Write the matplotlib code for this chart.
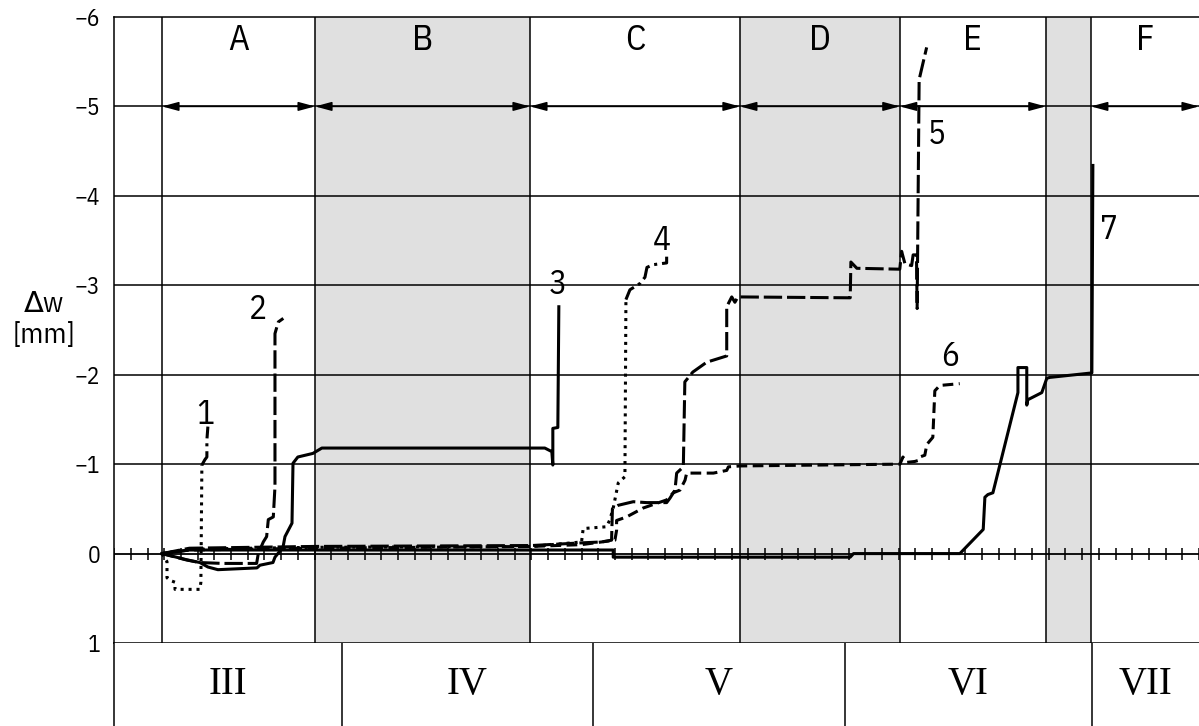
import numpy as np
import matplotlib.pyplot as plt

plt.rcParams['font.family'] = ['osifont', 'IBM Plex Sans Condensed', 'DejaVu Sans']
plt.rcParams['font.weight'] = 'normal'

# x: test progress in tick units along the zero line, y: deflection change [mm]
x_max = 65
phase_edges = [2.86, 12.03, 24.91, 37.49, 47.07, 55.82, 58.52]
shaded_spans = [(12.03, 24.91), (37.49, 47.07), (55.82, 58.52)]
phase_names = ["A", "B", "C", "D", "E", "F"]
phase_from = [2.86, 12.03, 24.91, 37.49, 47.07, 58.52]
phase_to = [12.03, 24.91, 37.49, 47.07, 55.82, 65.0]
stage_names = ["III", "IV", "V", "VI", "VII"]
stage_edges = [0.0, 13.64, 28.68, 43.78, 58.58, 65.0]

c1_x = [2.86, 3.16, 3.16, 3.34, 3.64, 3.64, 5.13, 5.19, 5.25, 5.43, 5.55, 5.55, 5.61]
c1_y = [0.0, 0.09, 0.27, 0.30, 0.32, 0.40, 0.40, 0.32, -0.99, -1.05, -1.08, -1.27, -1.42]

c2_x = [2.86, 4.30, 5.10, 6.50, 8.53, 8.63, 8.93, 9.13, 9.23, 9.53, 9.63, 9.63, 9.83, 10.13]
c2_y = [0.0, 0.07, 0.10, 0.11, 0.11, 0.0, -0.13, -0.19, -0.38, -0.41, -0.75, -2.46, -2.59, -2.63]

c3_x = [2.86, 4.36, 5.13, 5.61, 6.21, 8.55, 8.73, 9.51, 9.63, 10.11, 10.23, 10.65, 10.71,
        11.0, 11.9, 12.44, 25.8, 26.22, 26.28, 26.28, 26.58, 26.64]
c3_y = [0.0, 0.07, 0.10, 0.15, 0.18, 0.16, 0.13, 0.10, 0.04, -0.07, -0.19, -0.34, -1.01,
        -1.08, -1.12, -1.18, -1.18, -1.14, -0.99, -1.40, -1.41, -2.76]

c4_x = [2.86, 4.5, 12.0, 25.0, 28.0, 28.1, 29.5, 29.7, 29.9, 30.2, 30.6, 30.66,
        30.9, 31.5, 31.8, 31.92, 32.28, 33.1, 33.1]
c4_y = [0.0, -0.05, -0.07, -0.08, -0.13, -0.28, -0.30, -0.38, -0.51, -0.79, -0.86, -2.84,
        -2.95, -3.02, -3.09, -3.20, -3.23, -3.25, -3.32]

c5_x = [2.86, 4.5, 12.0, 25.0, 28.0, 29.2, 29.8, 29.85, 30.2, 31.1, 31.9, 33.1, 33.3, 33.6,
        33.7, 34.1, 34.19, 34.67, 35.5, 36.7, 36.7, 37.0, 37.19, 37.37, 44.1, 44.14, 44.5,
        47.07, 47.18, 47.38, 47.78, 47.87, 48.07, 48.11, 48.23, 48.68]
c5_y = [0.0, -0.06, -0.08, -0.09, -0.12, -0.13, -0.15, -0.50, -0.54, -0.58, -0.57, -0.57,
        -0.62, -0.71, -0.90, -0.97, -1.92, -2.03, -2.14, -2.21, -2.76, -2.87, -2.81, -2.87,
        -2.86, -3.26, -3.19, -3.18, -3.38, -3.24, -3.22, -3.34, -3.34, -2.74, -5.30, -5.66]

c6_x = [2.86, 4.5, 12.0, 25.0, 28.0, 30.0, 30.1, 30.1, 30.7, 31.7, 33.1, 33.5, 33.9, 34.2,
        34.3, 35.9, 36.7, 36.8, 37.5, 47.08, 47.26, 47.5, 47.97, 48.15, 48.27, 48.57, 48.69,
        49.05, 49.17, 49.47, 50.66]
c6_y = [0.0, -0.04, -0.06, -0.08, -0.10, -0.15, -0.26, -0.37, -0.41, -0.51, -0.60, -0.68,
        -0.71, -0.82, -0.90, -0.90, -0.93, -0.97, -0.98, -1.00, -1.08, -1.02, -1.03, -1.04,
        -1.08, -1.10, -1.22, -1.30, -1.82, -1.88, -1.90]

c7_x = [2.86, 4.5, 29.9, 29.9, 44.1, 44.3, 50.67, 52.07, 52.17, 52.35, 52.65, 54.15, 54.15,
        54.68, 54.68, 54.74, 55.58, 55.88, 56.06, 58.58, 58.64]
c7_y = [0.0, -0.04, -0.04, 0.04, 0.04, 0.0, 0.0, -0.27, -0.63, -0.66, -0.68, -1.80, -2.08,
        -2.08, -1.66, -1.72, -1.80, -1.96, -1.97, -2.02, -4.34]

curve_names = ["1", "2", "3", "4", "5", "6", "7"]
name_x = [5.48, 8.6, 26.59, 32.8, 49.3, 50.07, 59.6]
name_y = [-1.55, -2.72, -3.0, -3.5, -4.68, -2.2, -3.62]

fig = plt.figure(figsize=(11.99, 7.26), dpi=100)
ax = fig.add_axes([0.0953, 0.1143, 0.9047, 0.8623])
tb = fig.add_axes([0.0953, 0.0, 0.9047, 0.1143])

for a, b in shaded_spans:
    ax.axvspan(a, b, color="#e0e0e0", lw=0, zorder=0)
for x in phase_edges:
    ax.axvline(x, color="k", lw=1.1, zorder=1)
for y in range(-5, 0):
    ax.axhline(y, color="k", lw=1.1, zorder=1)
ax.axhline(0, color="k", lw=1.3, zorder=1)
ticks = np.arange(0, x_max + 1)
ax.plot(ticks, np.zeros(len(ticks)), ls="none", marker="|", ms=9, mew=1.1,
        color="k", zorder=1)

for name, a, b in zip(phase_names, phase_from, phase_to):
    ax.annotate("", xy=(a, -5), xytext=(b, -5),
                arrowprops=dict(arrowstyle="<|-|>,head_length=1.0,head_width=0.27",
                                color="k", lw=1.1, shrinkA=0, shrinkB=0,
                                mutation_scale=10))
    ax.text((a + b) / 2, -5.74, name, ha="center", va="center", fontsize=26)

lw = 2.2
dot = (0, (1, 1.6))
dashdot = (0, (5, 1.6, 1, 1.6))
ax.plot(c1_x[:9], c1_y[:9], color="k", lw=lw, ls=dot)
ax.plot(c1_x[8:], c1_y[8:], color="k", lw=lw, ls=dashdot)
ax.plot(c2_x, c2_y, color="k", lw=lw, ls=(2, (6, 1.6)))
ax.plot(c3_x, c3_y, color="k", lw=lw)
ax.plot(c4_x[:12], c4_y[:12], color="k", lw=lw, ls=dot)
ax.plot(c4_x[11:], c4_y[11:], color="k", lw=lw, ls=dashdot)
ax.plot(c5_x, c5_y, color="k", lw=lw, ls=(0, (6, 1.6)))
ax.plot(c6_x, c6_y, color="k", lw=lw, ls=(0, (3.5, 1.8)))
ax.plot(c7_x, c7_y, color="k", lw=lw)

for t, x, y in zip(curve_names, name_x, name_y):
    ax.text(x, y, t, ha="center", va="center", fontsize=24)

ax.set_xlim(0, x_max)
ax.set_ylim(1, -6)
ax.set_xticks([])
ax.set_yticks(range(-6, 2))
ax.tick_params(axis="y", length=0, pad=10, labelsize=17)
ax.spines["right"].set_visible(False)
for s in ["top", "left", "bottom"]:
    ax.spines[s].set_linewidth(1.1)

fig.text(44 / 1199, 1 - 305 / 726, "Δw", ha="center", va="center", fontsize=21)
fig.text(44 / 1199, 1 - 335 / 726, "[mm]", ha="center", va="center", fontsize=21)

tb.set_xlim(0, x_max)
tb.set_ylim(0, 1)
tb.set_xticks([])
tb.set_yticks([])
for x in stage_edges[1:-1]:
    tb.axvline(x, color="k", lw=1.1)
tb.spines["right"].set_visible(False)
tb.spines["bottom"].set_visible(False)
tb.spines["top"].set_visible(False)
tb.spines["left"].set_linewidth(1.1)
for name, a, b in zip(stage_names, stage_edges[:-1], stage_edges[1:]):
    tb.text((a + b) / 2, 0.5, name, ha="center", va="center", fontsize=28,
            family="Liberation Serif")

fig.savefig("out.png", dpi=100)
